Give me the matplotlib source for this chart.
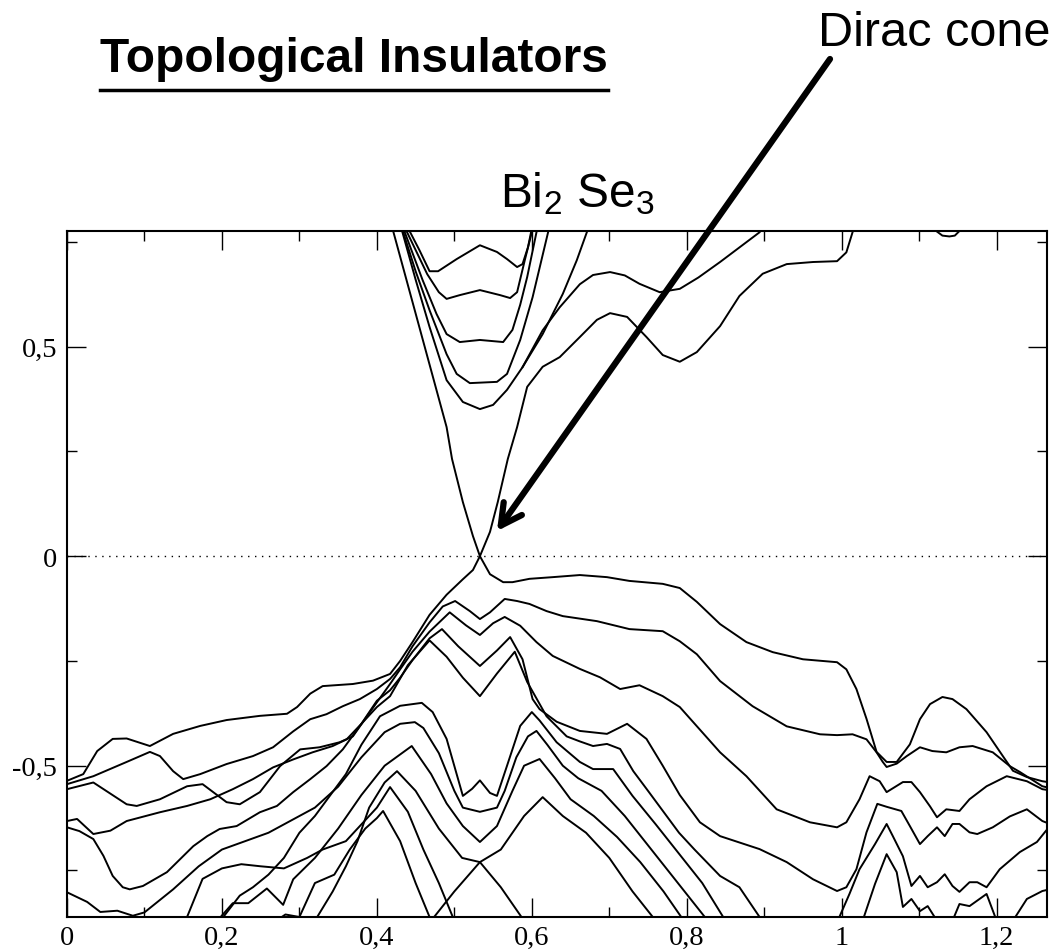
import matplotlib
matplotlib.use('Agg')
import matplotlib.pyplot as plt
from matplotlib.lines import Line2D
from matplotlib.ticker import MultipleLocator, FixedLocator, FixedFormatter
import numpy as np

plt.rcParams['mathtext.fontset'] = 'custom'
plt.rcParams['mathtext.rm'] = 'Liberation Sans'

# ---- band data: wave vector k and energy E (eV) ----
# conduction bands (U-shaped, near top)
u1_k = [0.436, 0.443, 0.455, 0.468, 0.479, 0.503, 0.533, 0.555, 0.568, 0.581, 0.588, 0.595, 0.599, 0.601]
u1_e = [0.80, 0.773, 0.730, 0.680, 0.680, 0.709, 0.742, 0.726, 0.709, 0.690, 0.697, 0.737, 0.773, 0.80]
u2_k = [0.432, 0.439, 0.465, 0.480, 0.490, 0.507, 0.533, 0.559, 0.572, 0.581, 0.591, 0.600, 0.603]
u2_e = [0.80, 0.773, 0.673, 0.630, 0.614, 0.623, 0.635, 0.623, 0.616, 0.630, 0.707, 0.773, 0.80]
u3_k = [0.430, 0.436, 0.459, 0.477, 0.490, 0.507, 0.533, 0.563, 0.575, 0.585, 0.594, 0.606, 0.610]
u3_e = [0.80, 0.773, 0.659, 0.578, 0.530, 0.511, 0.516, 0.511, 0.540, 0.600, 0.666, 0.773, 0.80]
u4_k = [0.429, 0.434, 0.450, 0.468, 0.490, 0.503, 0.520, 0.555, 0.568, 0.585, 0.601, 0.621, 0.624]
u4_e = [0.80, 0.773, 0.680, 0.587, 0.482, 0.435, 0.413, 0.416, 0.435, 0.516, 0.618, 0.773, 0.80]
u5_k = [0.428, 0.433, 0.450, 0.468, 0.490, 0.511, 0.533, 0.550, 0.568, 0.588, 0.614, 0.640, 0.658, 0.671, 0.676]
u5_e = [0.80, 0.773, 0.660, 0.547, 0.420, 0.368, 0.351, 0.361, 0.397, 0.451, 0.530, 0.626, 0.706, 0.773, 0.80]
ub_k = [0.588, 0.614, 0.636, 0.662, 0.679, 0.701, 0.720, 0.739, 0.765, 0.791, 0.815, 0.843, 0.894, 0.900]
ub_e = [0.451, 0.539, 0.594, 0.649, 0.671, 0.678, 0.670, 0.650, 0.630, 0.638, 0.665, 0.702, 0.773, 0.790]
u6_k = [1.118, 1.122, 1.130, 1.139, 1.146, 1.152, 1.156]
u6_e = [0.80, 0.776, 0.765, 0.763, 0.765, 0.776, 0.80]

# Dirac cone branches
da_k = [0.0, 0.021, 0.039, 0.059, 0.077, 0.107, 0.137, 0.172, 0.206, 0.249,
        0.284, 0.297, 0.314, 0.330, 0.369, 0.395, 0.417, 0.430, 0.446, 0.468,
        0.490, 0.511, 0.524, 0.533, 0.546, 0.556, 0.569, 0.581, 0.594, 0.614,
        0.636, 0.662, 0.684, 0.701, 0.723, 0.748, 0.769, 0.791, 0.813, 0.843,
        0.868, 0.898, 0.929, 0.963, 0.994, 1.006, 1.014, 1.019]
da_e = [-0.536, -0.520, -0.465, -0.436, -0.435, -0.453, -0.424, -0.405, -0.391, -0.381,
        -0.376, -0.360, -0.328, -0.310, -0.305, -0.297, -0.281, -0.250, -0.205, -0.140,
        -0.092, -0.055, -0.033, 0.0, 0.058, 0.129, 0.232, 0.308, 0.404, 0.452,
        0.475, 0.523, 0.564, 0.580, 0.571, 0.523, 0.480, 0.464, 0.487, 0.549,
        0.621, 0.674, 0.697, 0.702, 0.704, 0.725, 0.773, 0.805]
db_k = [0.4175, 0.421, 0.490, 0.497, 0.511, 0.524, 0.533, 0.546, 0.563, 0.575,
        0.597, 0.627, 0.662, 0.697, 0.726, 0.769, 0.791, 0.813, 0.843, 0.877, 0.911,
        0.950, 0.994, 1.006, 1.019, 1.032, 1.045, 1.058, 1.071, 1.088, 1.101,
        1.114, 1.130, 1.143, 1.161, 1.187, 1.208, 1.221, 1.239, 1.259, 1.266]
db_e = [0.80, 0.776, 0.308, 0.232, 0.129, 0.048, 0.0, -0.043, -0.062, -0.062,
        -0.054, -0.050, -0.045, -0.050, -0.059, -0.066, -0.076, -0.109, -0.162, -0.205, -0.229,
        -0.246, -0.253, -0.270, -0.317, -0.388, -0.467, -0.491, -0.491, -0.449, -0.389,
        -0.353, -0.336, -0.341, -0.365, -0.420, -0.477, -0.512, -0.527, -0.537, -0.539]

# valence bands
v1_k = [0.0, 0.034, 0.077, 0.107, 0.120, 0.137, 0.150, 0.172, 0.206, 0.240,
        0.266, 0.292, 0.314, 0.335, 0.356, 0.378, 0.400, 0.417, 0.430, 0.446,
        0.468, 0.485, 0.501, 0.520, 0.533, 0.546, 0.565, 0.581, 0.597, 0.619,
        0.640, 0.684, 0.726, 0.769, 0.791, 0.813, 0.843, 0.885, 0.929, 0.972,
        0.994, 1.014, 1.032, 1.045, 1.053, 1.058, 1.071, 1.084, 1.101, 1.117,
        1.135, 1.152, 1.169, 1.195, 1.217, 1.230, 1.259, 1.266]
v1_e = [-0.544, -0.525, -0.491, -0.467, -0.477, -0.513, -0.532, -0.520, -0.496, -0.477,
        -0.456, -0.418, -0.389, -0.377, -0.358, -0.341, -0.317, -0.293, -0.265, -0.215,
        -0.158, -0.120, -0.107, -0.131, -0.150, -0.134, -0.102, -0.107, -0.114, -0.131,
        -0.143, -0.155, -0.174, -0.179, -0.203, -0.234, -0.298, -0.358, -0.406, -0.425,
        -0.427, -0.425, -0.437, -0.468, -0.491, -0.503, -0.495, -0.477, -0.456, -0.465,
        -0.468, -0.456, -0.453, -0.468, -0.501, -0.515, -0.549, -0.552]
v2_k = [0.0, 0.034, 0.077, 0.090, 0.120, 0.155, 0.175, 0.206, 0.223, 0.249,
        0.275, 0.301, 0.326, 0.352, 0.369, 0.391, 0.417, 0.430, 0.446, 0.468,
        0.494, 0.515, 0.533, 0.550, 0.565, 0.585, 0.606, 0.627, 0.662, 0.688,
        0.714, 0.739, 0.769, 0.791, 0.843, 0.877, 0.916, 0.959, 0.994, 1.006,
        1.023, 1.036, 1.049, 1.058, 1.079, 1.090, 1.101, 1.114, 1.123, 1.135,
        1.152, 1.165, 1.187, 1.213, 1.239, 1.259, 1.266]
v2_e = [-0.556, -0.540, -0.592, -0.596, -0.580, -0.549, -0.544, -0.587, -0.592, -0.563,
        -0.501, -0.461, -0.456, -0.444, -0.430, -0.372, -0.305, -0.270, -0.228, -0.180,
        -0.134, -0.165, -0.188, -0.160, -0.145, -0.166, -0.205, -0.238, -0.269, -0.289,
        -0.317, -0.308, -0.334, -0.360, -0.468, -0.525, -0.604, -0.635, -0.647, -0.635,
        -0.580, -0.525, -0.537, -0.563, -0.539, -0.539, -0.563, -0.597, -0.623, -0.604,
        -0.608, -0.580, -0.549, -0.525, -0.537, -0.556, -0.558]
v3_k = [0.0, 0.013, 0.034, 0.056, 0.077, 0.120, 0.155, 0.185, 0.214, 0.240,
        0.266, 0.292, 0.317, 0.343, 0.361, 0.380, 0.400, 0.417, 0.430, 0.446,
        0.468, 0.484, 0.505, 0.533, 0.555, 0.572, 0.588, 0.601, 0.610, 0.632, 0.662,
        0.697, 0.723, 0.748, 0.769, 0.791, 0.817, 0.843, 0.894, 0.929, 0.963,
        0.994, 1.006, 1.019, 1.032, 1.046, 1.058, 1.077, 1.088, 1.101, 1.111,
        1.123, 1.133, 1.143, 1.152, 1.165, 1.175, 1.195, 1.217, 1.239, 1.259, 1.266]
v3_e = [-0.632, -0.627, -0.663, -0.655, -0.632, -0.611, -0.596, -0.580, -0.556, -0.532,
        -0.504, -0.485, -0.468, -0.453, -0.437, -0.400, -0.345, -0.320, -0.290, -0.248,
        -0.196, -0.174, -0.215, -0.262, -0.225, -0.193, -0.246, -0.341, -0.365, -0.395, -0.417,
        -0.424, -0.400, -0.436, -0.500, -0.570, -0.635, -0.668, -0.699, -0.730, -0.771,
        -0.799, -0.790, -0.747, -0.659, -0.591, -0.598, -0.608, -0.644, -0.687, -0.668,
        -0.647, -0.668, -0.639, -0.639, -0.659, -0.663, -0.647, -0.621, -0.604, -0.632, -0.637]
v4_k = [0.0, 0.016, 0.034, 0.047, 0.059, 0.072, 0.081, 0.098, 0.129, 0.163,
        0.181, 0.197, 0.219, 0.249, 0.271, 0.292, 0.314, 0.335, 0.356, 0.380,
        0.400, 0.417, 0.440, 0.468, 0.490, 0.511, 0.533, 0.555, 0.578, 0.594,
        0.619, 0.645, 0.662, 0.679, 0.697, 0.714, 0.731, 0.750, 0.770, 0.790,
        0.810, 0.843, 0.868, 0.894]
v4_e = [-0.647, -0.656, -0.675, -0.715, -0.763, -0.790, -0.795, -0.787, -0.754, -0.692,
        -0.668, -0.651, -0.644, -0.611, -0.596, -0.563, -0.532, -0.501, -0.461, -0.400,
        -0.360, -0.334, -0.260, -0.201, -0.240, -0.290, -0.334, -0.280, -0.228, -0.300,
        -0.382, -0.430, -0.442, -0.453, -0.448, -0.460, -0.513, -0.560, -0.610, -0.660,
        -0.700, -0.763, -0.790, -0.861]
v5_k = [0.0, 0.026, 0.043, 0.065, 0.085, 0.100, 0.137, 0.170, 0.200, 0.230,
        0.260, 0.290, 0.320, 0.350, 0.380, 0.410, 0.430, 0.449, 0.460, 0.480,
        0.500, 0.511, 0.533, 0.555, 0.565, 0.580, 0.595, 0.606, 0.620, 0.640,
        0.660, 0.690, 0.720, 0.750, 0.780, 0.810, 0.840]
v5_e = [-0.802, -0.825, -0.849, -0.846, -0.858, -0.850, -0.795, -0.740, -0.700, -0.680,
        -0.660, -0.630, -0.600, -0.550, -0.480, -0.420, -0.400, -0.396, -0.410, -0.470,
        -0.560, -0.600, -0.610, -0.600, -0.560, -0.480, -0.430, -0.417, -0.450, -0.500,
        -0.530, -0.560, -0.620, -0.690, -0.760, -0.830, -0.900]
m1_k = [0.198, 0.223, 0.240, 0.260, 0.280, 0.300, 0.320, 0.340, 0.360, 0.380, 0.404, 0.430,
        0.458, 0.472, 0.490, 0.511, 0.523, 0.533, 0.546, 0.555, 0.568, 0.585,
        0.600, 0.610, 0.632, 0.662, 0.679, 0.705, 0.730, 0.760, 0.790, 0.820, 0.850]
m1_e = [-0.870, -0.810, -0.790, -0.760, -0.720, -0.660, -0.620, -0.570, -0.520, -0.450, -0.382, -0.357,
        -0.350, -0.372, -0.436, -0.572, -0.555, -0.535, -0.565, -0.572, -0.500, -0.405,
        -0.372, -0.392, -0.444, -0.491, -0.508, -0.508, -0.572, -0.640, -0.710, -0.780, -0.870]
m3_k = [0.194, 0.214, 0.234, 0.258, 0.279, 0.292, 0.320, 0.350, 0.380, 0.410, 0.445, 0.470,
        0.490, 0.511, 0.533, 0.555, 0.575, 0.590, 0.610, 0.630, 0.650, 0.680,
        0.710, 0.740, 0.770, 0.800]
m3_e = [-0.870, -0.828, -0.828, -0.793, -0.832, -0.771, -0.720, -0.650, -0.570, -0.500, -0.453, -0.520,
        -0.590, -0.644, -0.682, -0.644, -0.560, -0.500, -0.484, -0.530, -0.580, -0.620,
        -0.670, -0.730, -0.800, -0.880]
m4_k = [0.320, 0.343, 0.360, 0.375, 0.390, 0.410, 0.426, 0.450,
        0.480, 0.510, 0.533, 0.560, 0.590, 0.614, 0.640, 0.670, 0.700, 0.730, 0.760]
m4_e = [-0.870, -0.800, -0.740, -0.680, -0.600, -0.540, -0.513, -0.560,
        -0.650, -0.720, -0.730, -0.700, -0.620, -0.575, -0.620, -0.660, -0.720, -0.800, -0.870]
m5_k = [0.153, 0.175, 0.200, 0.225, 0.250, 0.280, 0.310, 0.330, 0.360, 0.380, 0.400,
        0.417, 0.440, 0.460, 0.480, 0.500]
m5_e = [-0.870, -0.770, -0.745, -0.735, -0.740, -0.745, -0.720, -0.700, -0.680, -0.640, -0.600,
        -0.551, -0.610, -0.700, -0.780, -0.870]
m6_k = [0.270, 0.282, 0.300, 0.320, 0.345, 0.365, 0.385, 0.400, 0.408, 0.430, 0.450, 0.470]
m6_e = [-0.870, -0.855, -0.861, -0.780, -0.760, -0.700, -0.650, -0.625, -0.608, -0.680, -0.780, -0.870]
m7_k = [0.470, 0.500, 0.533, 0.560, 0.590]
m7_e = [-0.870, -0.800, -0.730, -0.790, -0.870]

# right-hand lower bands
r2_k = [0.997, 1.010, 1.023, 1.043, 1.058, 1.066, 1.079, 1.090, 1.101, 1.111,
        1.123, 1.133, 1.143, 1.152, 1.165, 1.175, 1.187, 1.204, 1.230, 1.252, 1.266]
r2_e = [-0.861, -0.806, -0.747, -0.687, -0.639, -0.668, -0.716, -0.787, -0.763, -0.790,
        -0.778, -0.759, -0.787, -0.801, -0.778, -0.778, -0.790, -0.747, -0.706, -0.682, -0.650]
r3_k = [1.027, 1.043, 1.058, 1.071, 1.079, 1.090, 1.101, 1.111, 1.123]
r3_e = [-0.870, -0.782, -0.711, -0.754, -0.837, -0.818, -0.847, -0.835, -0.870]
r4_k = [1.143, 1.152, 1.165, 1.187, 1.200]
r4_e = [-0.870, -0.830, -0.835, -0.806, -0.870]
r5_k = [1.221, 1.239, 1.259, 1.266]
r5_e = [-0.870, -0.818, -0.799, -0.796]

bands = [(u1_k, u1_e), (u2_k, u2_e), (u3_k, u3_e), (u4_k, u4_e), (u5_k, u5_e),
         (ub_k, ub_e), (u6_k, u6_e), (da_k, da_e), (db_k, db_e),
         (v1_k, v1_e), (v2_k, v2_e), (v3_k, v3_e), (v4_k, v4_e), (v5_k, v5_e),
         (m1_k, m1_e), (m3_k, m3_e), (m4_k, m4_e), (m5_k, m5_e), (m6_k, m6_e),
         (m7_k, m7_e), (r2_k, r2_e), (r3_k, r3_e), (r4_k, r4_e), (r5_k, r5_e)]

x_ticks = [0, 0.2, 0.4, 0.6, 0.8, 1.0, 1.2]
x_labels = ['0', '0,2', '0,4', '0,6', '0,8', '1', '1,2']
y_ticks = [-0.5, 0, 0.5]
y_labels = ['-0,5', '0', '0,5']

W, H = 1063, 953
fig = plt.figure(figsize=(W / 100, H / 100), dpi=100)
ax = fig.add_axes([67 / W, 35 / H, 980 / W, 686 / H])

for k, e in bands:
    ax.plot(k, e, color='black', lw=1.4, solid_joinstyle='round')

ax.axhline(0, color='black', lw=1.0, ls=(0, (1, 4)))

ax.set_xlim(0, 1.265)
ax.set_ylim(-0.861, 0.776)

ax.xaxis.set_major_locator(FixedLocator(x_ticks))
ax.xaxis.set_major_formatter(FixedFormatter(x_labels))
ax.xaxis.set_minor_locator(MultipleLocator(0.1))
ax.yaxis.set_major_locator(FixedLocator(y_ticks))
ax.yaxis.set_major_formatter(FixedFormatter(y_labels))
ax.yaxis.set_minor_locator(MultipleLocator(0.25))
ax.tick_params(which='both', direction='in', top=True, right=True, width=1.0)
ax.tick_params(which='major', length=13.5)
ax.tick_params(axis='x', which='major', pad=6)
ax.tick_params(axis='y', which='major', pad=7)
ax.tick_params(which='minor', length=7)
for lab in ax.get_xticklabels() + ax.get_yticklabels():
    lab.set_fontfamily('Liberation Serif')
    lab.set_fontsize(20.5)
for sp in ax.spines.values():
    sp.set_linewidth(1.5)

# titles and annotation
title = fig.text(100 / W, 1 - 72 / H, 'Topological Insulators', fontfamily='Liberation Sans',
                 fontweight='bold', fontsize=34.5, ha='left', va='baseline')
fig.text(500 / W, 1 - 207 / H, r'Bi$_{2}$ Se$_{3}$', fontfamily='Liberation Sans',
         fontsize=34.5, ha='left', va='baseline')
fig.text(1050 / W, 1 - 46 / H, 'Dirac cone', fontfamily='Liberation Sans',
         fontsize=35, ha='right', va='baseline')

ax.annotate('', xy=(0.555, 0.06), xycoords='data',
            xytext=(830 / W, 1 - 60 / H), textcoords='figure fraction',
            arrowprops=dict(arrowstyle='->,head_length=1.5,head_width=0.8',
                            lw=4.5, color='black', shrinkA=0, shrinkB=0),
            annotation_clip=False)

fig.canvas.draw()
bb = title.get_window_extent()
fig.add_artist(Line2D([bb.x0 / W, bb.x1 / W], [1 - 91 / H, 1 - 91 / H],
                      transform=fig.transFigure, color='black', lw=2.5))

fig.savefig('out.png', dpi=100)
